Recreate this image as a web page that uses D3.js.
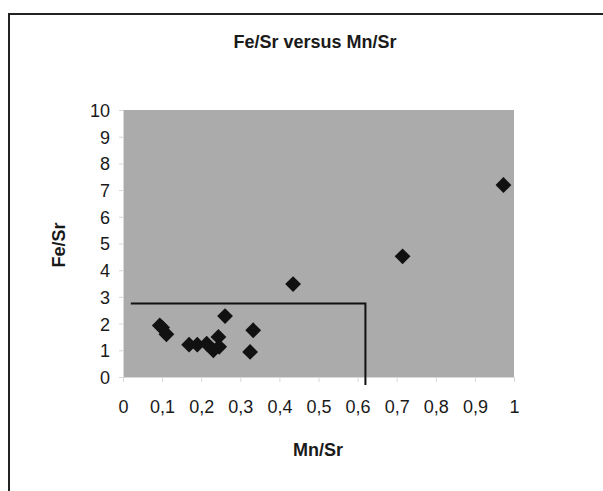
<!DOCTYPE html>
<html>
<head>
<meta charset="utf-8">
<script src="https://cdn.jsdelivr.net/npm/d3@7"></script>
<style>
  body { margin: 0; background: #fff; }
  text { font-family: "Liberation Sans", Arial, sans-serif; fill: #1a1a1a; }
  .axis path, .axis line { stroke: #d8d8d8; }
  .axis text { font-size: 18px; fill: #1a1a1a; }
</style>
</head>
<body>
<svg id="chart" width="603" height="491"></svg>
<script>
// Mn/Sr (x) and Fe/Sr (y) of the samples
var mnSr = [0.094, 0.100, 0.111, 0.169, 0.190, 0.214, 0.231, 0.244, 0.246, 0.261, 0.325, 0.333, 0.435, 0.715, 0.973];
var feSr = [1.93, 1.85, 1.60, 1.21, 1.21, 1.25, 1.00, 1.50, 1.13, 2.28, 0.94, 1.75, 3.48, 4.52, 7.19];

// limit lines
var limitX = [0.02, 0.62, 0.62];
var limitY = [2.75, 2.75, -0.3];

var xTicks = [0, 0.1, 0.2, 0.3, 0.4, 0.5, 0.6, 0.7, 0.8, 0.9, 1];
var yTicks = [0, 1, 2, 3, 4, 5, 6, 7, 8, 9, 10];

var svg = d3.select("svg#chart"),
    margin = {top: 110, right: 89, bottom: 114, left: 123},
    width = +svg.attr("width") - margin.left - margin.right,
    height = +svg.attr("height") - margin.top - margin.bottom;

// outer frame (only top and left edges survive in the scan)
svg.append("path")
    .attr("d", "M9,491V14H603")
    .attr("fill", "none")
    .attr("stroke", "#222")
    .attr("stroke-width", 2);

svg.append("text")
    .attr("x", 315)
    .attr("y", 48)
    .attr("text-anchor", "middle")
    .style("font-size", "18px")
    .style("font-weight", "bold")
    .text("Fe/Sr versus Mn/Sr");

var x = d3.scaleLinear().domain([0, 1]).range([0, width]);
var y = d3.scaleLinear().domain([0, 10]).range([height, 0]);

var g = svg.append("g")
    .attr("transform", "translate(" + margin.left + "," + margin.top + ")");

g.append("rect")
    .attr("width", width)
    .attr("height", height)
    .attr("fill", "#ababab");

var fmt = function(d) { return String(d).replace(".", ","); };

g.append("g")
    .attr("class", "axis axis--x")
    .attr("transform", "translate(0," + height + ")")
    .call(d3.axisBottom(x).tickValues(xTicks).tickFormat(fmt).tickSize(5).tickPadding(18));

g.append("g")
    .attr("class", "axis axis--y")
    .call(d3.axisLeft(y).tickValues(yTicks).tickSize(4).tickPadding(9));

g.selectAll(".axis text").attr("dy", "0.36em");
g.select(".axis--x").selectAll("text").attr("dy", "0.71em");

g.append("path")
    .datum(d3.zip(limitX, limitY))
    .attr("fill", "none")
    .attr("stroke", "#111")
    .attr("stroke-width", 2)
    .attr("d", d3.line()
        .x(function(d) { return x(d[0]); })
        .y(function(d) { return y(d[1]); }));

var diamond = d3.symbol().type(d3.symbolSquare).size(125);

g.selectAll(".pt")
    .data(d3.zip(mnSr, feSr))
  .enter().append("path")
    .attr("class", "pt")
    .attr("d", diamond)
    .attr("fill", "#111")
    .attr("transform", function(d) {
      return "translate(" + x(d[0]) + "," + y(d[1]) + ") rotate(45)";
    });

svg.append("text")
    .attr("x", 318)
    .attr("y", 456)
    .attr("text-anchor", "middle")
    .style("font-size", "18px")
    .style("font-weight", "bold")
    .text("Mn/Sr");

svg.append("text")
    .attr("transform", "translate(65,245) rotate(-90)")
    .attr("text-anchor", "middle")
    .style("font-size", "18px")
    .style("font-weight", "bold")
    .text("Fe/Sr");
</script>
</body>
</html>
